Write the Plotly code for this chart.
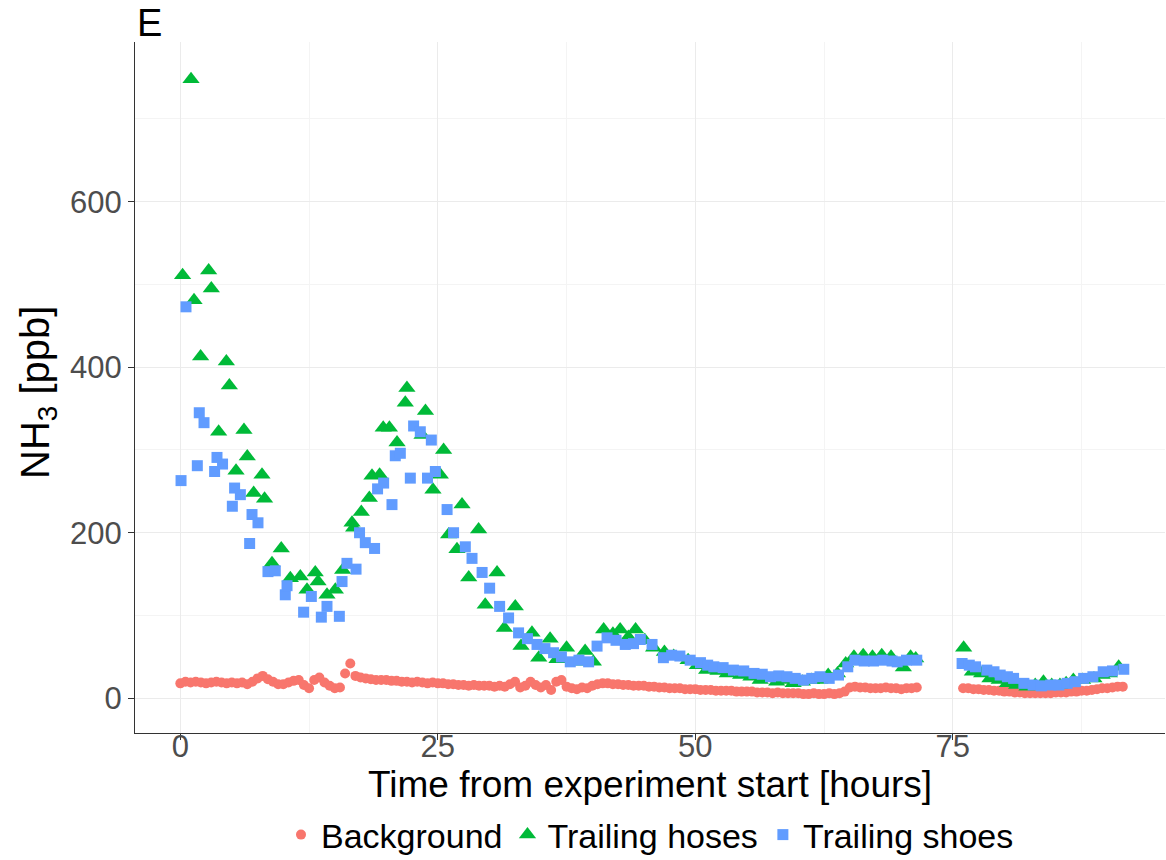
import plotly.graph_objects as go

# ---------------- data ----------------
hoses_t = [0.22, 1.04, 1.33, 1.97, 2.75, 3.01, 3.72, 4.47, 4.76, 5.41, 6.18, 6.5, 7.12, 7.93, 8.18,
           8.9, 9.8, 10.68, 11.65, 12.3, 13.1, 13.37, 14.24, 15.05, 15.76, 16.67, 16.83, 17.57, 18.35,
           18.61, 19.35, 19.7, 20.3, 21.04, 21.84, 22.0, 23.47, 23.8, 24.53, 25.24, 25.56, 26.05,
           26.86, 27.35, 28.0, 28.96, 29.6, 30.75, 31.46, 32.52, 33.08, 34.14, 34.8, 35.9, 36.57,
           37.5, 38.8, 39.3, 40.1, 41.1, 42.0, 42.7, 43.5, 44.2, 45.1, 45.95, 47.0, 47.9, 49.3,
           50.2, 51.1, 52.2, 53.1, 54.4, 55.4, 56.3, 57.9, 58.7, 59.5, 60.4, 61.3, 62.1, 62.9,
           63.8, 64.6, 65.4, 66.3, 67.2, 68.1, 69.0, 70.2, 70.9, 71.4,
           76.05, 76.9, 77.8, 78.6, 79.5, 80.3, 81.2, 82.2, 83.0, 83.8, 84.6, 85.4, 86.0, 86.7,
           87.6, 88.7, 89.5, 90.2, 91.1]
hoses_v = [511, 748, 481, 413, 517, 495, 322, 407, 378, 275, 324, 292, 248, 270, 241,
           163, 181, 145, 147, 131, 152, 141, 125, 131, 155, 212, 206, 225, 242,
           269, 270, 327, 327, 309, 357, 375, 318, 347, 252, 270, 300, 198,
           180, 234, 146, 204, 113, 152, 85, 111, 63, 79, 49, 72, 47,
           61, 44, 57, 44, 83, 78, 83, 74, 83, 70, 61, 56, 51, 46,
           40, 34, 33, 30, 28, 26, 22, 20, 22, 18, 20, 22, 22, 28,
           30, 42, 50, 52, 50, 52, 50, 37, 50, 48,
           61, 32, 30, 24, 22, 18, 16, 14, 16, 20, 16, 16, 18, 22,
           22, 24, 28, 30, 38]

shoes_t = [0.07, 0.55, 1.65, 1.84, 2.3, 3.33, 3.56, 4.1, 5.05, 5.27, 5.83, 6.73, 6.96, 7.54,
           8.51, 9.22, 10.19, 10.36, 11.97, 12.72, 13.69, 14.24, 15.44, 15.7, 16.18, 17.06,
           17.4, 17.96, 18.86, 19.15, 19.74, 20.55, 20.87, 21.36, 22.33, 22.65, 23.3, 24.0,
           24.37, 24.76, 25.9, 26.53, 27.67, 28.32, 29.3, 30.03, 31.0, 31.87, 32.84, 33.7,
           34.63, 35.4, 36.24, 37.0, 37.86, 38.7, 39.64, 40.46, 41.43, 42.3, 43.2, 44.0, 44.66,
           45.8, 46.9, 47.7, 48.5, 49.5, 50.5, 51.2, 51.8, 52.7, 53.7, 54.7, 55.7, 56.5, 57.3,
           58.1, 58.9, 59.7, 60.5, 61.3, 62.1, 63.0, 63.9, 64.8, 65.5, 66.4, 67.3, 68.2, 69.1,
           69.6, 70.5, 71.5,
           75.9, 76.6, 77.2, 78.3, 79.0, 79.6, 80.3, 80.9, 81.9, 82.8, 83.6, 84.5, 85.3, 86.1,
           86.9, 87.7, 88.6, 89.6, 90.5, 91.6]
shoes_v = [263, 473, 281, 345, 333, 274, 291, 283, 232, 254, 246, 187, 222, 212,
           153, 154, 125, 136, 104, 123, 98, 111, 99, 141, 163, 156,
           200, 188, 181, 253, 260, 234, 293, 296, 266, 329, 322, 266,
           312, 274, 228, 200, 183, 169, 152, 133, 111, 97, 79, 72,
           65, 60, 55, 50, 44, 46, 44, 63, 73, 70, 65, 66, 71,
           65, 49, 52, 51, 46, 43, 40, 38, 37, 34, 33, 30, 29, 26,
           27, 26, 24, 22, 24, 26, 24, 28, 38, 46, 45, 45, 46, 45,
           44, 46, 46,
           42, 40, 38, 34, 32, 28, 26, 24, 18, 16, 15, 16, 16, 18,
           20, 24, 26, 32, 33, 35]

# background: sampled every half hour, 0-71.5 h and 76-91.5 h
bg_t = [i * 0.5 for i in range(144)] + [76 + i * 0.5 for i in range(32)]
bg_v = [18, 20, 19, 20, 19, 18, 19, 20, 19, 18,
        19, 18, 19, 17, 20, 24, 27, 23, 20, 17,
        17, 19, 21, 22, 16, 12, 22, 25, 19, 15,
        12, 13, 30, 42, 27, 25, 24, 23, 22, 22,
        22, 21, 21, 20, 20, 19, 20, 19, 18, 19,
        18, 18, 17, 17, 16, 16, 15, 16, 15, 15,
        15, 14, 15, 14, 17, 20, 13, 15, 20, 16,
        13, 16, 10, 20, 22, 14, 12, 11, 13, 12,
        15, 17, 18, 18, 17, 17, 16, 16, 15, 15,
        15, 14, 14, 13, 13, 12, 12, 12, 11, 11,
        11, 10, 10, 10, 9, 9, 9, 9, 8, 8,
        8, 8, 7, 7, 7, 6, 7, 6, 6, 6,
        6, 5, 5, 6, 5, 5, 6, 5, 6, 8,
        13, 14, 13, 13, 12, 12, 12, 13, 12, 12, 11, 12, 12, 13,
        12, 12, 11, 11, 10, 10, 9, 9, 8, 8,
        7, 7, 6, 6, 6, 6, 6, 6, 7, 7,
        7, 8, 8, 9, 9, 10, 11, 12, 12, 13,
        14, 14]

x_ticks = [0, 25, 50, 75]
x_minor = [12.5, 37.5, 62.5, 87.5]
y_ticks = [0, 200, 400, 600]
y_minor = [100, 300, 500, 700]

C_BG, C_HOSE, C_SHOE = "#F8766D", "#00BA38", "#619CFF"
FONT = "Liberation Sans, Arial, sans-serif"

fig = go.Figure()
fig.add_trace(go.Scatter(x=bg_t, y=bg_v, mode="markers", name="Background",
                         marker=dict(symbol="circle", size=10, color=C_BG, line=dict(width=0))))
fig.add_trace(go.Scatter(x=hoses_t, y=hoses_v, mode="markers", name="Trailing hoses",
                         marker=dict(symbol="triangle-up", size=15, color=C_HOSE, line=dict(width=0))))
fig.add_trace(go.Scatter(x=shoes_t, y=shoes_v, mode="markers", name="Trailing shoes",
                         marker=dict(symbol="square", size=11, color=C_SHOE, line=dict(width=0))))

grid = "#EBEBEB"
axis_common = dict(showgrid=True, gridcolor=grid, gridwidth=1.3, zeroline=False,
                   showline=True, linecolor="#333333", linewidth=1.3,
                   ticks="outside", ticklen=6, tickcolor="#333333", tickwidth=1.3,
                   tickfont=dict(size=31, color="#4D4D4D"), automargin=False)

fig.update_layout(
    width=1166, height=860,
    margin=dict(l=135, r=1, t=42, b=127),
    paper_bgcolor="white", plot_bgcolor="white",
    font=dict(family=FONT, color="black"),
    showlegend=True,
    legend=dict(orientation="h", xref="paper", x=0.5, xanchor="center",
                yref="container", y=25 / 860, yanchor="middle",
                font=dict(size=34, color="black"), itemsizing="trace",
                itemwidth=30, tracegroupgap=0),
    xaxis=dict(range=[-4.4, 95.6], tickvals=x_ticks, ticktext=[str(v) for v in x_ticks],
               minor=dict(tickvals=x_minor, showgrid=True, gridcolor="#F4F4F4", gridwidth=0.8),
               ticklabelstandoff=-20,
               **axis_common),
    yaxis=dict(range=[-42, 793], tickvals=y_ticks, ticktext=[str(v) for v in y_ticks],
               minor=dict(tickvals=y_minor, showgrid=True, gridcolor="#F4F4F4", gridwidth=0.8),
               **axis_common),
    annotations=[
        dict(text="E", xref="paper", yref="paper", x=0, y=1, xanchor="left", yanchor="middle",
             xshift=0, yshift=19, showarrow=False, font=dict(size=38, color="black")),
        dict(text="Time from experiment start [hours]", xref="paper", yref="paper",
             x=0.5, y=(733 - 784) / 691, xanchor="center", yanchor="middle",
             showarrow=False, font=dict(size=37, color="black")),
        dict(text="NH<sub>3</sub> [ppb]", xref="paper", yref="paper", textangle=-90,
             x=0, y=(733 - 393) / 691, xanchor="center", yanchor="middle", xshift=-97,
             showarrow=False, font=dict(size=40, color="black")),
    ],
)

fig.write_html("out.html")
